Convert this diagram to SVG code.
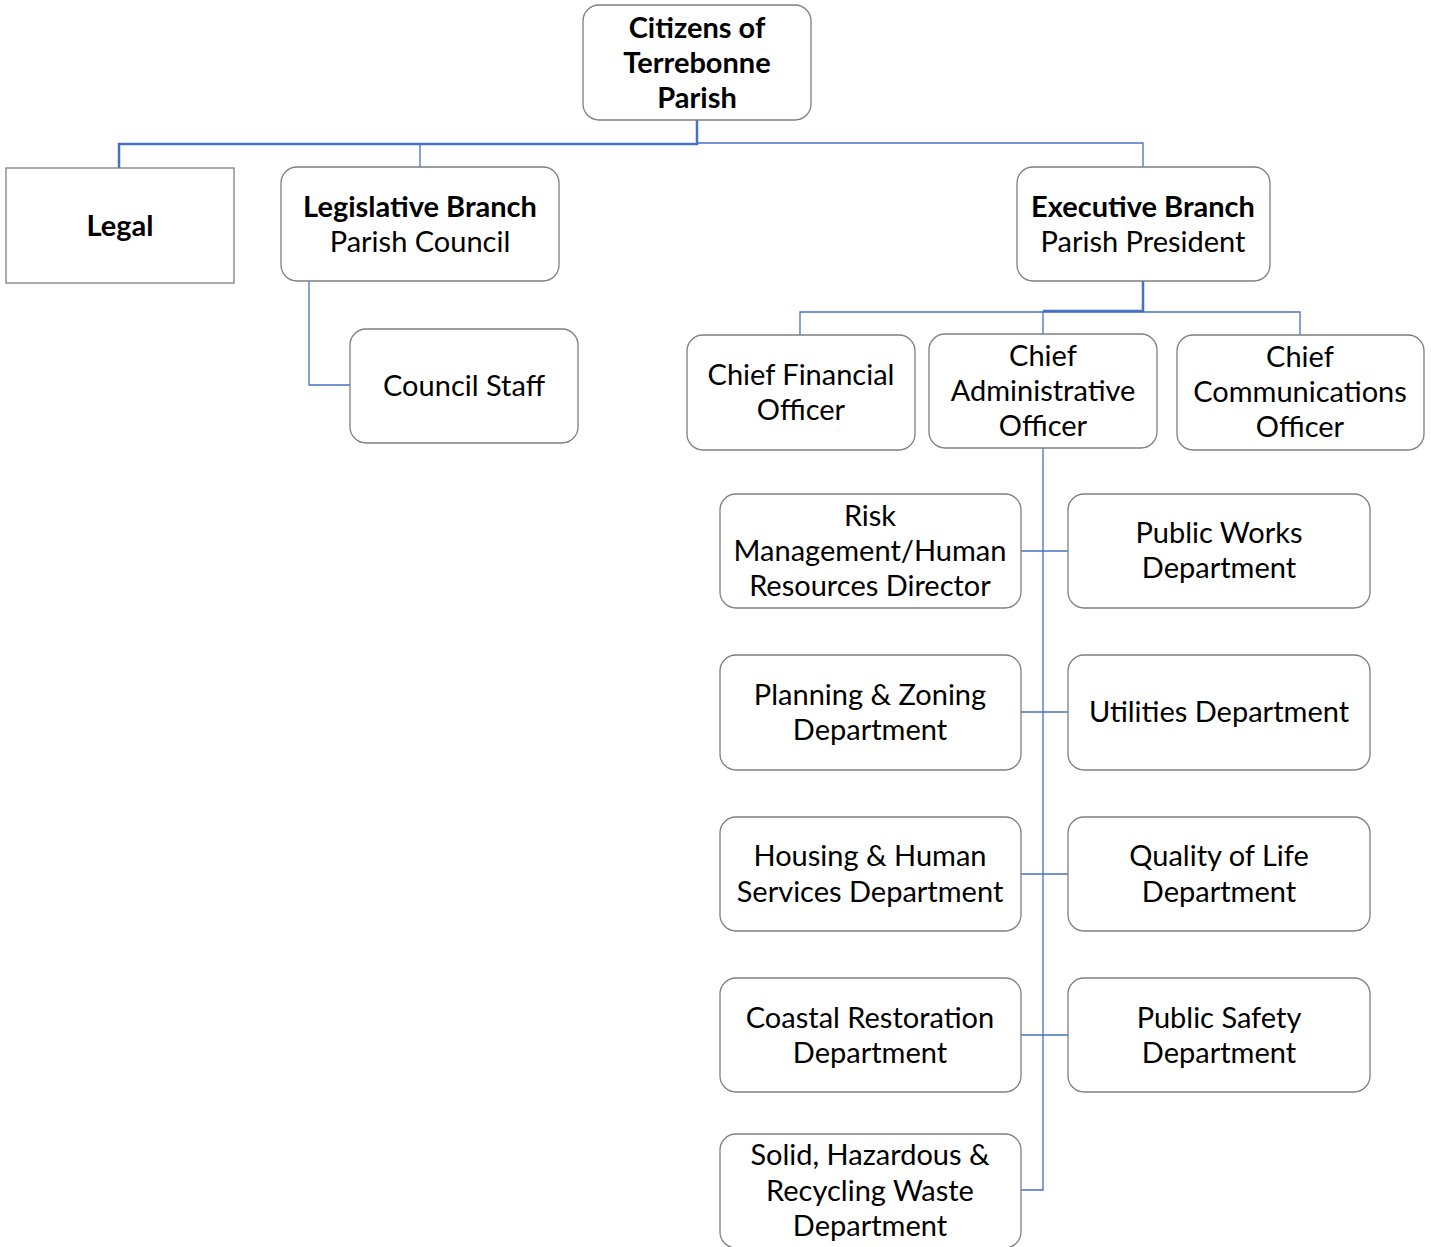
<svg xmlns="http://www.w3.org/2000/svg" width="1431" height="1247" viewBox="0 0 1431 1247">
<style>
.box{fill:#fff;stroke:#7f7f7f;stroke-width:1.3}
.t{font-family:Lato,"Open Sans",sans-serif;font-size:29px;fill:#000;text-anchor:middle;dominant-baseline:central}
.b{font-weight:bold}
.c{fill:none;stroke:#4472C4;stroke-width:1.3}
.ct{fill:none;stroke:#4472C4;stroke-width:2.5}
</style>
<rect width="1431" height="1247" fill="#fff"/>
<g id="connectors">
<path class="ct" d="M697,120 V144 H119 V168"/>
<path class="c" d="M420,144 V167"/>
<path class="c" d="M697,143 H1143 V167"/>
<path class="c" d="M309,281 V385 H350"/>
<path class="ct" d="M1143,281 V311 H1043"/>
<path class="c" d="M800,335 V312 H1300 V335"/>
<path class="c" d="M1043,311 V334"/>
<path class="c" d="M1043,448 V1190 H1021"/>
<path class="c" d="M1021,551 H1068 M1021,712 H1068 M1021,874 H1068 M1021,1035 H1068"/>
</g>
<g id="citizens"><rect class="box" x="583" y="5" width="228" height="115" rx="16"/>
<text class="t b" x="697" y="26">Citizens of</text><text class="t b" x="697" y="61">Terrebonne</text><text class="t b" x="697" y="96">Parish</text></g>
<g id="legal"><rect class="box" x="6" y="168" width="228" height="115"/>
<text class="t b" x="120" y="224">Legal</text></g>
<g id="legislative"><rect class="box" x="281" y="167" width="278" height="114" rx="16"/>
<text class="t b" x="420" y="205">Legislative Branch</text><text class="t" x="420" y="240">Parish Council</text></g>
<g id="council-staff"><rect class="box" x="350" y="329" width="228" height="114" rx="16"/>
<text class="t" x="464" y="384">Council Staff</text></g>
<g id="executive"><rect class="box" x="1017" y="167" width="253" height="114" rx="16"/>
<text class="t b" x="1143" y="205">Executive Branch</text><text class="t" x="1143" y="240">Parish President</text></g>
<g id="cfo"><rect class="box" x="687" y="335" width="228" height="115" rx="16"/>
<text class="t" x="801" y="373">Chief Financial</text><text class="t" x="801" y="408">Officer</text></g>
<g id="cao"><rect class="box" x="929" y="334" width="228" height="114" rx="16"/>
<text class="t" x="1043" y="354">Chief</text><text class="t" x="1043" y="389">Administrative</text><text class="t" x="1043" y="424">Officer</text></g>
<g id="cco"><rect class="box" x="1177" y="335" width="247" height="115" rx="16"/>
<text class="t" x="1300" y="355">Chief</text><text class="t" x="1300" y="390">Communications</text><text class="t" x="1300" y="425">Officer</text></g>
<g id="risk"><rect class="box" x="720" y="494" width="301" height="114" rx="16"/>
<text class="t" x="870" y="514">Risk</text><text class="t" x="870" y="549">Management/Human</text><text class="t" x="870" y="584">Resources Director</text></g>
<g id="public-works"><rect class="box" x="1068" y="494" width="302" height="114" rx="16"/>
<text class="t" x="1219" y="531">Public Works</text><text class="t" x="1219" y="566">Department</text></g>
<g id="planning"><rect class="box" x="720" y="655" width="301" height="115" rx="16"/>
<text class="t" x="870" y="693">Planning &amp; Zoning</text><text class="t" x="870" y="728">Department</text></g>
<g id="utilities"><rect class="box" x="1068" y="655" width="302" height="115" rx="16"/>
<text class="t" x="1219" y="710">Utilities Department</text></g>
<g id="housing"><rect class="box" x="720" y="817" width="301" height="114" rx="16"/>
<text class="t" x="870" y="854">Housing &amp; Human</text><text class="t" x="870" y="890">Services Department</text></g>
<g id="quality"><rect class="box" x="1068" y="817" width="302" height="114" rx="16"/>
<text class="t" x="1219" y="854">Quality of Life</text><text class="t" x="1219" y="890">Department</text></g>
<g id="coastal"><rect class="box" x="720" y="978" width="301" height="114" rx="16"/>
<text class="t" x="870" y="1016">Coastal Restoration</text><text class="t" x="870" y="1051">Department</text></g>
<g id="public-safety"><rect class="box" x="1068" y="978" width="302" height="114" rx="16"/>
<text class="t" x="1219" y="1016">Public Safety</text><text class="t" x="1219" y="1051">Department</text></g>
<g id="solid-waste"><rect class="box" x="720" y="1134" width="301" height="114" rx="16"/>
<text class="t" x="870" y="1153">Solid, Hazardous &amp;</text><text class="t" x="870" y="1189">Recycling Waste</text><text class="t" x="870" y="1224">Department</text></g>
</svg>
